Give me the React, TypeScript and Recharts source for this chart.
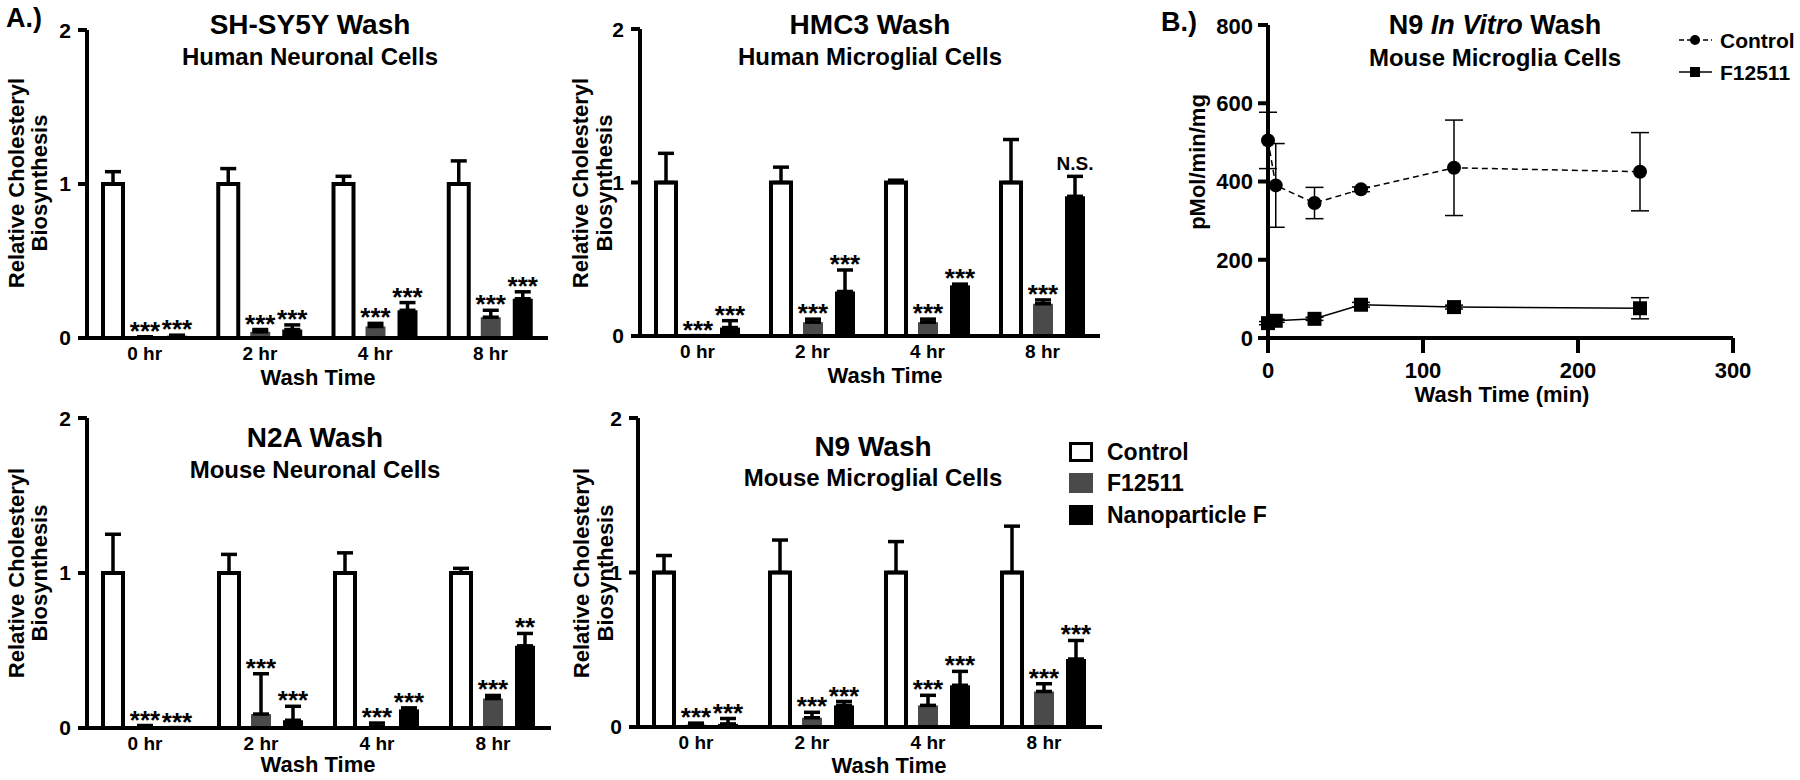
import React from "react";
import { BarChart, Bar, XAxis, YAxis, ErrorBar, LabelList, LineChart, Line } from "recharts";

const FONT = '"Liberation Sans", Arial, Helvetica, sans-serif';

const washTimes = ["0 hr", "2 hr", "4 hr", "8 hr"];
const controlMean = [1, 1, 1, 1];

// SH-SY5Y
const shsyControlErr = [0.08, 0.1, 0.05, 0.15];
const shsyF12511 = [0.005, 0.04, 0.075, 0.135];
const shsyF12511Err = [0.003, 0.015, 0.02, 0.045];
const shsyNano = [0.015, 0.055, 0.18, 0.255];
const shsyNanoErr = [0.003, 0.03, 0.05, 0.045];
const shsyF12511Sig = ["***", "***", "***", "***"];
const shsyNanoSig = ["***", "***", "***", "***"];

// HMC3
const hmc3ControlErr = [0.19, 0.1, 0.015, 0.28];
const hmc3F12511 = [0.002, 0.09, 0.09, 0.21];
const hmc3F12511Err = [0, 0.02, 0.02, 0.025];
const hmc3Nano = [0.055, 0.29, 0.33, 0.91];
const hmc3NanoErr = [0.045, 0.14, 0.008, 0.13];
const hmc3F12511Sig = ["***", "***", "***", "***"];
const hmc3NanoSig = ["***", "***", "***", "N.S."];

// N2A
const n2aControlErr = [0.25, 0.12, 0.13, 0.03];
const n2aF12511 = [0.012, 0.09, 0.012, 0.19];
const n2aF12511Err = [0.004, 0.26, 0.02, 0.02];
const n2aNano = [0.002, 0.05, 0.12, 0.53];
const n2aNanoErr = [0, 0.09, 0.01, 0.08];
const n2aF12511Sig = ["***", "***", "***", "***"];
const n2aNanoSig = ["***", "***", "***", "**"];

// N9
const n9ControlErr = [0.11, 0.21, 0.2, 0.3];
const n9F12511 = [0.015, 0.06, 0.14, 0.23];
const n9F12511Err = [0.01, 0.035, 0.065, 0.05];
const n9Nano = [0.02, 0.14, 0.27, 0.44];
const n9NanoErr = [0.035, 0.025, 0.09, 0.12];
const n9F12511Sig = ["***", "***", "***", "***"];
const n9NanoSig = ["***", "***", "***", "***"];

// N9 in vitro wash (panel B)
const bTimes = [0, 5, 30, 60, 120, 240];
const bControl = [505, 390, 345, 380, 435, 425];
const bControlErr = [72, 107, 40, 6, 122, 100];
const bF12511 = [38, 44, 49, 85, 79, 76];
const bF12511Err = [4, 4, 4, 6, 5, 27];

type Row = {
  time: string;
  control: number;
  controlErr: number[];
  f12511: number;
  f12511Err: number[];
  nano: number;
  nanoErr: number[];
  f12511Sig: string;
  nanoSig: string;
};

const makeRows = (
  cErr: number[],
  f: number[],
  fErr: number[],
  n: number[],
  nErr: number[],
  fSig: string[],
  nSig: string[]
): Row[] =>
  washTimes.map((time, i) => ({
    time,
    control: controlMean[i],
    controlErr: [0, cErr[i]],
    f12511: f[i],
    f12511Err: [0, fErr[i]],
    nano: n[i],
    nanoErr: [0, nErr[i]],
    f12511Sig: fSig[i],
    nanoSig: nSig[i],
  }));

const shsyRows = makeRows(shsyControlErr, shsyF12511, shsyF12511Err, shsyNano, shsyNanoErr, shsyF12511Sig, shsyNanoSig);
const hmc3Rows = makeRows(hmc3ControlErr, hmc3F12511, hmc3F12511Err, hmc3Nano, hmc3NanoErr, hmc3F12511Sig, hmc3NanoSig);
const n2aRows = makeRows(n2aControlErr, n2aF12511, n2aF12511Err, n2aNano, n2aNanoErr, n2aF12511Sig, n2aNanoSig);
const n9Rows = makeRows(n9ControlErr, n9F12511, n9F12511Err, n9Nano, n9NanoErr, n9F12511Sig, n9NanoSig);

const bRows = bTimes.map((t, i) => ({
  t,
  control: bControl[i],
  controlErr: bControlErr[i],
  f12511: bF12511[i],
  f12511Err: bF12511Err[i],
}));

const GREY = "#4a4a4a";
const axisStyle = { stroke: "#000", strokeWidth: 4 };
const tickFont = (size: number) => ({ fill: "#000", fontSize: size, fontWeight: 700, fontFamily: FONT });

const Txt = ({ x, y, size, rotate, left, children }: any) => (
  <div
    style={{
      position: "absolute",
      left: x,
      top: y,
      transform: `translate(${left ? "0" : "-50%"},-50%)${rotate ? " rotate(-90deg)" : ""}`,
      fontSize: size,
      fontWeight: 700,
      fontFamily: FONT,
      lineHeight: 1,
      whiteSpace: "nowrap",
      color: "#000",
    }}
  >
    {children}
  </div>
);

// label value carries "sig|upperError" so no index lookup is needed
const sigKey = (sig: "f12511Sig" | "nanoSig", err: "f12511Err" | "nanoErr") => (r: Row) => `${r[sig]}|${r[err][1]}`;

const sigLabel = (ppu: number) => (props: any) => {
  const vb = props.viewBox || props;
  const { x, y, width } = vb;
  const [text, errStr] = String(props.value ?? "").split("|");
  if (!text) return null;
  const top = y - Number(errStr || 0) * ppu;
  const star = text.includes("*");
  return (
    <text
      x={x + width / 2}
      y={star ? top + 3 : top - 6}
      textAnchor="middle"
      fontSize={star ? 26 : 19}
      fontWeight={700}
      fontFamily={FONT}
      fill="#000"
    >
      {text}
    </text>
  );
};

const BarPanel = ({ axisX, topY, plotW, plotH, rows }: any) => {
  const ML = 70;
  const YW = 40;
  const MT = 12;
  const MR = 12;
  const XH = 50;
  const ppu = plotH / 2;
  return (
    <div style={{ position: "absolute", left: axisX - ML, top: topY - MT }}>
      <BarChart
        width={ML + plotW + MR}
        height={MT + plotH + XH}
        data={rows}
        margin={{ top: MT, right: MR, left: ML - YW, bottom: 0 }}
        barSize={20}
        barGap={12}
      >
        <XAxis
          dataKey="time"
          height={XH}
          axisLine={axisStyle}
          tickLine={false}
          tickSize={0}
          tickMargin={9}
          interval={0}
          tick={tickFont(19)}
        />
        <YAxis
          width={YW}
          domain={[0, 2]}
          ticks={[0, 1, 2]}
          axisLine={axisStyle}
          tickLine={axisStyle}
          tickSize={9}
          tickMargin={7}
          tick={tickFont(21)}
        />
        <Bar dataKey="control" fill="#fff" stroke="#000" strokeWidth={4} isAnimationActive={false}>
          <ErrorBar dataKey="controlErr" direction="y" width={8} stroke="#000" strokeWidth={3.5} />
        </Bar>
        <Bar dataKey="f12511" fill={GREY} isAnimationActive={false}>
          <ErrorBar dataKey="f12511Err" direction="y" width={8} stroke="#000" strokeWidth={3.5} />
          <LabelList dataKey={sigKey("f12511Sig", "f12511Err")} content={sigLabel(ppu)} />
        </Bar>
        <Bar dataKey="nano" fill="#000" isAnimationActive={false}>
          <ErrorBar dataKey="nanoErr" direction="y" width={8} stroke="#000" strokeWidth={3.5} />
          <LabelList dataKey={sigKey("nanoSig", "nanoErr")} content={sigLabel(ppu)} />
        </Bar>
      </BarChart>
    </div>
  );
};

const CircleDot = (p: any) => <circle key={`c-${p.index}`} cx={p.cx} cy={p.cy} r={7} fill="#000" />;
const SquareDot = (p: any) => (
  <rect key={`s-${p.index}`} x={p.cx - 7} y={p.cy - 7} width={14} height={14} fill="#000" />
);

const LinePanel = ({ axisX, topY, plotW, plotH }: any) => {
  const ML = 90;
  const YW = 60;
  const MT = 12;
  const MR = 20;
  const XH = 60;
  return (
    <div style={{ position: "absolute", left: axisX - ML, top: topY - MT }}>
      <LineChart
        width={ML + plotW + MR}
        height={MT + plotH + XH}
        data={bRows}
        margin={{ top: MT, right: MR, left: ML - YW, bottom: 0 }}
      >
        <XAxis
          type="number"
          dataKey="t"
          domain={[0, 300]}
          ticks={[0, 100, 200, 300]}
          height={XH}
          axisLine={axisStyle}
          tickLine={axisStyle}
          tickSize={15}
          tickMargin={9}
          tick={tickFont(22)}
        />
        <YAxis
          width={YW}
          domain={[0, 800]}
          ticks={[0, 200, 400, 600, 800]}
          axisLine={axisStyle}
          tickLine={axisStyle}
          tickSize={10}
          tickMargin={5}
          tick={tickFont(22)}
        />
        <Line
          dataKey="control"
          stroke="#000"
          strokeWidth={1.5}
          strokeDasharray="6 4"
          dot={CircleDot}
          isAnimationActive={false}
        >
          <ErrorBar dataKey="controlErr" direction="y" width={9} stroke="#000" strokeWidth={1.5} />
        </Line>
        <Line dataKey="f12511" stroke="#000" strokeWidth={1.5} dot={SquareDot} isAnimationActive={false}>
          <ErrorBar dataKey="f12511Err" direction="y" width={9} stroke="#000" strokeWidth={1.5} />
        </Line>
      </LineChart>
    </div>
  );
};

const YLabel = ({ x1, x2, y }: any) => (
  <>
    <Txt x={x1} y={y} size={22} rotate>
      Relative Cholesteryl
    </Txt>
    <Txt x={x2} y={y} size={22} rotate>
      Biosynthesis
    </Txt>
  </>
);

const LegendBox = ({ y, fill, border, label }: any) => (
  <>
    <div
      style={{
        position: "absolute",
        left: 1069,
        top: y - 10,
        width: border ? 18 : 24,
        height: border ? 14 : 20,
        background: fill,
        border: border ? "3px solid #000" : "none",
      }}
    />
    <Txt x={1107} y={y} size={23} left>
      {label}
    </Txt>
  </>
);

export default function App() {
  return (
    <div
      style={{
        position: "absolute",
        left: 0,
        top: 0,
        width: 1800,
        height: 780,
        background: "#fff",
        overflow: "hidden",
      }}
    >
      {/* Panel A */}
      <Txt x={6} y={18} size={27} left>
        A.)
      </Txt>

      <BarPanel axisX={87} topY={30} plotW={461} plotH={308} rows={shsyRows} />
      <Txt x={310} y={25} size={28}>SH-SY5Y Wash</Txt>
      <Txt x={310} y={57} size={24}>Human Neuronal Cells</Txt>
      <YLabel x1={17} x2={40} y={183} />
      <Txt x={318} y={378} size={22}>Wash Time</Txt>

      <BarPanel axisX={640} topY={29} plotW={460} plotH={307} rows={hmc3Rows} />
      <Txt x={870} y={25} size={28}>HMC3 Wash</Txt>
      <Txt x={870} y={57} size={24}>Human Microglial Cells</Txt>
      <YLabel x1={581} x2={605} y={183} />
      <Txt x={885} y={376} size={22}>Wash Time</Txt>

      <BarPanel axisX={87} topY={418} plotW={464} plotH={310} rows={n2aRows} />
      <Txt x={315} y={438} size={28}>N2A Wash</Txt>
      <Txt x={315} y={470} size={24}>Mouse Neuronal Cells</Txt>
      <YLabel x1={17} x2={40} y={573} />
      <Txt x={318} y={765} size={22}>Wash Time</Txt>

      <BarPanel axisX={638} topY={418} plotW={464} plotH={309} rows={n9Rows} />
      <Txt x={873} y={447} size={28}>N9 Wash</Txt>
      <Txt x={873} y={478} size={24}>Mouse Microglial Cells</Txt>
      <YLabel x1={582} x2={606} y={573} />
      <Txt x={889} y={766} size={22}>Wash Time</Txt>

      <LegendBox y={452} fill="#fff" border label="Control" />
      <LegendBox y={483} fill={GREY} label="F12511" />
      <LegendBox y={515} fill="#000" label="Nanoparticle F" />

      {/* Panel B */}
      <Txt x={1161} y={22} size={27} left>
        B.)
      </Txt>
      <LinePanel axisX={1268} topY={25} plotW={465} plotH={313} />
      <Txt x={1495} y={25} size={27}>
        N9 <i>In Vitro</i> Wash
      </Txt>
      <Txt x={1495} y={58} size={24}>Mouse Microglia Cells</Txt>
      <Txt x={1198} y={162} size={22} rotate>
        pMol/min/mg
      </Txt>
      <Txt x={1502} y={395} size={22}>Wash Time (min)</Txt>

      <svg style={{ position: "absolute", left: 1676, top: 28 }} width={40} height={60}>
        <line x1={3} y1={12} x2={36} y2={12} stroke="#000" strokeWidth={1.5} strokeDasharray="5 3" />
        <circle cx={19} cy={12} r={5} fill="#000" />
        <line x1={3} y1={44} x2={36} y2={44} stroke="#000" strokeWidth={1.5} />
        <rect x={14} y={39} width={10} height={10} fill="#000" />
      </svg>
      <Txt x={1720} y={40} size={21} left>Control</Txt>
      <Txt x={1720} y={72} size={21} left>F12511</Txt>
    </div>
  );
}
